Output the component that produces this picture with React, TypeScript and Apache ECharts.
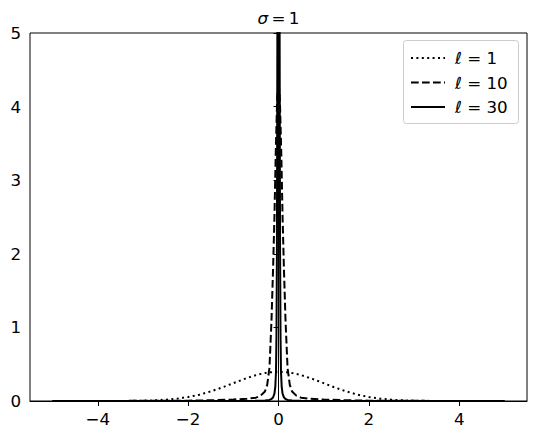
import React, { useEffect, useRef } from "react";
import * as echarts from "echarts";

const xTickValues = [-4, -2, 0, 2, 4];
const yTickValues = [0, 1, 2, 3, 4, 5];

const seriesNames = ["ℓ = 1", "ℓ = 10", "ℓ = 30"];
const legendValues = ["1", "10", "30"];

// ℓ = 1 (dotted)
const xDotted = [
  -5, -4.75, -4.5, -4.25, -4, -3.75, -3.5, -3.25, -3, -2.75, -2.5, -2.25, -2, -1.75, -1.5, -1.25, -1, -0.75, -0.5, -0.25,
  0, 0.25, 0.5, 0.75, 1, 1.25, 1.5, 1.75, 2, 2.25, 2.5, 2.75, 3, 3.25, 3.5, 3.75, 4, 4.25, 4.5, 4.75, 5,
];
const yDotted = [
  0, 0.00001, 0.00002, 0.00005, 0.0001, 0.0004, 0.0009, 0.002, 0.0044, 0.009, 0.018, 0.032, 0.054, 0.086, 0.13, 0.183, 0.242, 0.301, 0.352, 0.387,
  0.399, 0.387, 0.352, 0.301, 0.242, 0.183, 0.13, 0.086, 0.054, 0.032, 0.018, 0.009, 0.0044, 0.002, 0.0009, 0.0004, 0.0001, 0.00005, 0.00002, 0.00001, 0,
];

// ℓ = 10 (dashed)
const xDashed = [
  -5, -4, -3, -2, -1.5, -1, -0.7, -0.5, -0.4, -0.3, -0.25, -0.2, -0.155, -0.12, -0.09, -0.06, -0.03,
  0, 0.03, 0.06, 0.09, 0.12, 0.155, 0.2, 0.25, 0.3, 0.4, 0.5, 0.7, 1, 1.5, 2, 3, 4, 5,
];
const yDashed = [
  0.0005, 0.001, 0.002, 0.005, 0.01, 0.02, 0.03, 0.045, 0.07, 0.13, 0.22, 0.45, 1.1, 1.8, 2.5, 3.4, 4.1,
  4.35, 4.1, 3.4, 2.5, 1.8, 1.1, 0.45, 0.22, 0.13, 0.07, 0.045, 0.03, 0.02, 0.01, 0.005, 0.002, 0.001, 0.0005,
];

// ℓ = 30 (solid)
const xSolid = [
  -5, -1, -0.5, -0.3, -0.2, -0.15, -0.12, -0.09, -0.07, -0.055, -0.045, -0.035, -0.025, -0.015,
  0, 0.015, 0.025, 0.035, 0.045, 0.055, 0.07, 0.09, 0.12, 0.15, 0.2, 0.3, 0.5, 1, 5,
];
const ySolid = [
  0, 0.001, 0.003, 0.008, 0.015, 0.03, 0.05, 0.1, 0.2, 0.4, 0.9, 2, 5, 9,
  13, 9, 5, 2, 0.9, 0.4, 0.2, 0.1, 0.05, 0.03, 0.015, 0.008, 0.003, 0.001, 0,
];

const pairs = (xs: number[], ys: number[]) => xs.map((x, i) => [x, ys[i]]);

const FONT = "DejaVu Sans";
const FS = 16.7;

const lineDashes: (number[] | null)[] = [[2, 3.4], [7.7, 3.3], null];

export default function App() {
  const ref = useRef<HTMLDivElement>(null);
  useEffect(() => {
    if (!ref.current) return;
    const chart = echarts.init(ref.current, undefined, { renderer: "svg" });

    const legendRowY = [58, 82.5, 107];
    const legendItems: any[] = [];
    legendRowY.forEach((y, i) => {
      legendItems.push({
        type: "line",
        shape: { x1: 411, y1: y, x2: 445, y2: y },
        style: {
          stroke: "#000",
          lineWidth: 2,
          lineDash: lineDashes[i] || undefined,
        },
        z: 101,
      });
      legendItems.push({
        type: "text",
        x: 455,
        y: y,
        style: {
          text: "{i|ℓ} = " + legendValues[i],
          textVerticalAlign: "middle",
          fontFamily: FONT,
          fontSize: FS,
          fill: "#000",
          rich: { i: { fontStyle: "italic", fontFamily: FONT, fontSize: FS, fill: "#000" } },
        },
        z: 101,
      });
    });

    chart.setOption({
      animation: false,
      backgroundColor: "#ffffff",
      grid: {
        left: 30,
        top: 33,
        width: 497,
        height: 368,
        show: true,
        borderColor: "#000",
        borderWidth: 1,
        backgroundColor: "transparent",
      },
      graphic: [
        {
          type: "text",
          x: 278.5,
          y: 18,
          style: {
            text: "{i|σ}\u2009=\u20091",
            textAlign: "center",
            textVerticalAlign: "middle",
            fontFamily: FONT,
            fontSize: FS,
            fill: "#000",
            rich: {
              i: { fontStyle: "italic", fontFamily: FONT, fontSize: FS, fill: "#000" },
            },
          },
        },
        {
          type: "rect",
          shape: { x: 403.5, y: 40.5, width: 115, height: 83, r: 3 },
          style: { fill: "rgba(255,255,255,0.8)", stroke: "#cccccc", lineWidth: 1 },
          z: 100,
        },
        ...legendItems,
      ],
      xAxis: {
        type: "value",
        min: -5.5,
        max: 5.5,
        axisLine: { show: true, lineStyle: { color: "#000", width: 1 } },
        axisTick: { show: true, length: 5, lineStyle: { color: "#000" }, customValues: xTickValues },
        axisLabel: {
          show: true,
          margin: 9,
          fontFamily: FONT,
          fontSize: FS,
          color: "#000",
          customValues: xTickValues,
          formatter: (v: number) => (v < 0 ? "\u2212" + Math.abs(v) : String(v)),
        },
        splitLine: { show: false },
      },
      yAxis: {
        type: "value",
        min: 0,
        max: 5,
        interval: 1,
        axisLine: { show: true, lineStyle: { color: "#000", width: 1 } },
        axisTick: { show: true, length: 5, lineStyle: { color: "#000" }, customValues: yTickValues },
        axisLabel: {
          show: true,
          margin: 9,
          fontFamily: FONT,
          fontSize: FS,
          color: "#000",
          customValues: yTickValues,
        },
        splitLine: { show: false },
      },
      series: [
        {
          name: seriesNames[0],
          type: "line",
          data: pairs(xDotted, yDotted),
          symbol: "none",
          clip: true,
          lineStyle: { color: "#000", width: 2, type: [2, 3.4] },
        },
        {
          name: seriesNames[1],
          type: "line",
          data: pairs(xDashed, yDashed),
          symbol: "none",
          clip: true,
          lineStyle: { color: "#000", width: 2, type: [7.7, 3.3] },
        },
        {
          name: seriesNames[2],
          type: "line",
          data: pairs(xSolid, ySolid),
          symbol: "none",
          clip: true,
          lineStyle: { color: "#000", width: 2, type: "solid" },
        },
      ],
    });
    return () => chart.dispose();
  }, []);
  return (
    <div
      ref={ref}
      style={{ position: "fixed", left: 0, top: 0, width: 536, height: 439, background: "#fff" }}
    />
  );
}
